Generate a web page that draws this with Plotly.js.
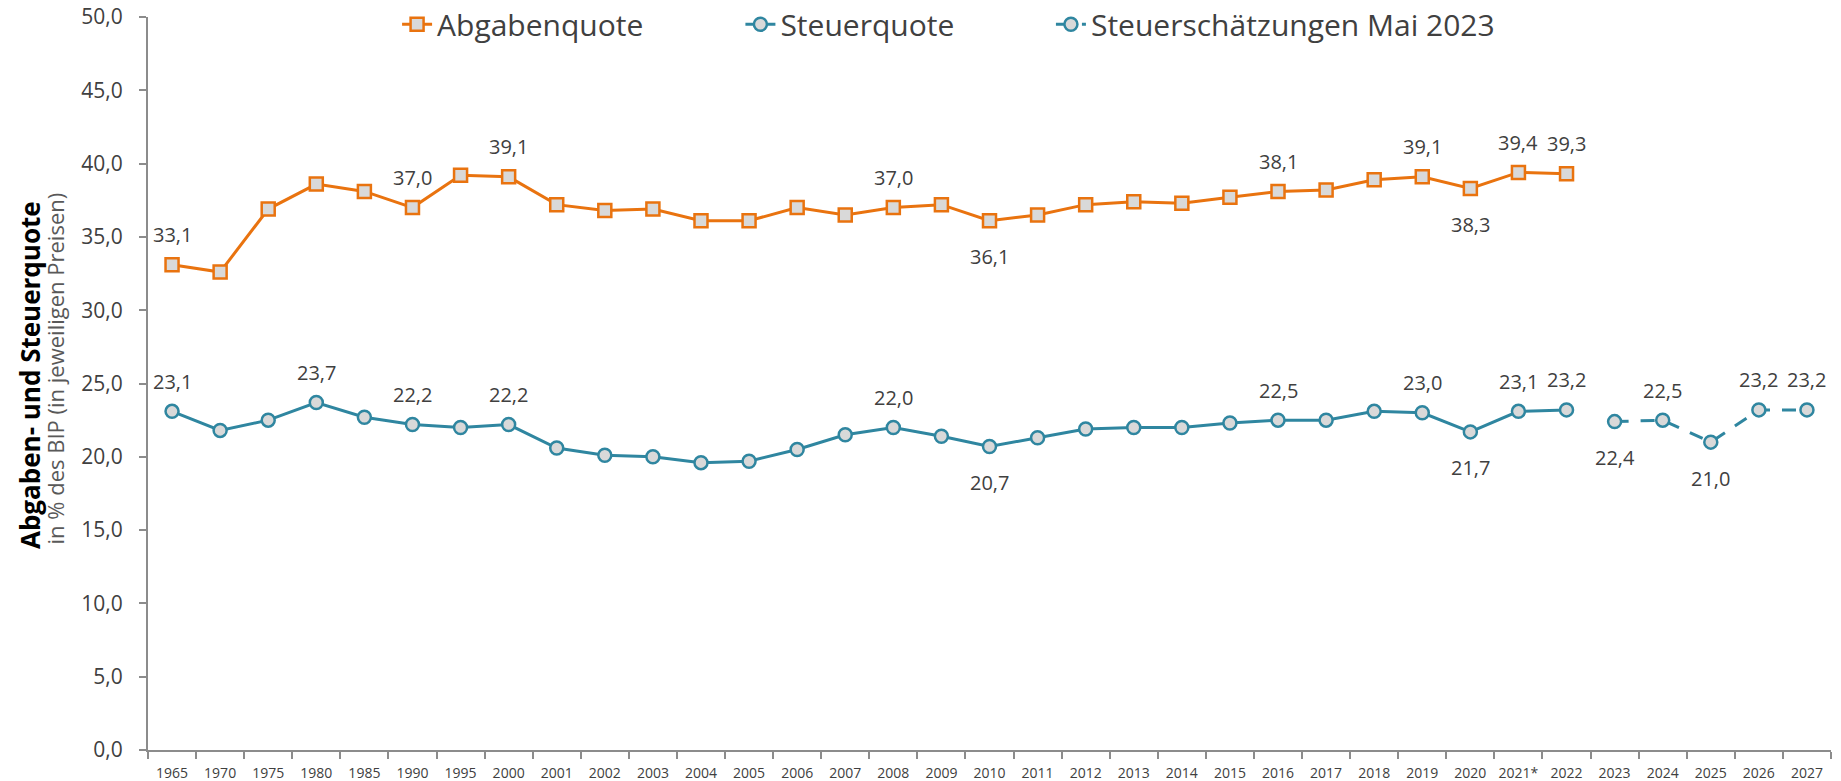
<!DOCTYPE html>
<html>
<head>
<meta charset="utf-8">
<script src="https://cdn.plot.ly/plotly-3.0.1.min.js"></script>
<style>
html,body{margin:0;padding:0;background:#fff;}
#chart{width:1841px;height:781px;}
</style>
</head>
<body>
<div id="chart"></div>
<script>
// ---- Data ----
const years = ["1965","1970","1975","1980","1985","1990","1995","2000","2001","2002","2003","2004","2005","2006","2007","2008","2009","2010","2011","2012","2013","2014","2015","2016","2017","2018","2019","2020","2021*","2022","2023","2024","2025","2026","2027"];
const histYears = years.slice(0, 30);
const forecastYears = years.slice(30);

const abgabenquote = [33.1,32.6,36.9,38.6,38.1,37.0,39.2,39.1,37.2,36.8,36.9,36.1,36.1,37.0,36.5,37.0,37.2,36.1,36.5,37.2,37.4,37.3,37.7,38.1,38.2,38.9,39.1,38.3,39.4,39.3];
const steuerquote = [23.1,21.8,22.5,23.7,22.7,22.2,22.0,22.2,20.6,20.1,20.0,19.6,19.7,20.5,21.5,22.0,21.4,20.7,21.3,21.9,22.0,22.0,22.3,22.5,22.5,23.1,23.0,21.7,23.1,23.2];
const steuerschaetzung = [22.4,22.5,21.0,23.2,23.2];

// which points carry a value label: "a" = above, "b" = below, "" = none
const abgabenLabels = ["a","","","","","a","","a","","","","","","","","a","","b","","","","","","a","","","a","b","a","a"];
const steuerLabels  = ["a","","","a","","a","","a","","","","","","","","a","","b","","","","","","a","","","a","b","a","a"];
const schaetzLabels = ["b","a","b","a","a"];

const seriesNames = ["Abgabenquote","Steuerquote","Steuerschätzungen Mai 2023"];
const yAxisTitle = "Abgaben- und Steuerquote";
const yAxisSubtitle = "in % des BIP (in jeweiligen Preisen)";

// ---- Styles ----
const ORANGE = "#E9730F";
const TEAL = "#2F86A0";
const FILL = "#D9D9D9";
const TXT = "#404040";
const AXIS = "#8C8C8C";
const FONT = "Open Sans, Lato, sans-serif";

const fmt = v => v.toFixed(1).replace(".", ",");

const traces = [
  {
    type: "scatter", mode: "lines+markers", name: seriesNames[0], legend: "legend",
    x: histYears, y: abgabenquote,
    line: {color: ORANGE, width: 3},
    marker: {symbol: "square", size: 13, color: FILL, line: {color: ORANGE, width: 2.5}}
  },
  {
    type: "scatter", mode: "lines+markers", name: seriesNames[1], legend: "legend2",
    x: histYears, y: steuerquote,
    line: {color: TEAL, width: 3},
    marker: {symbol: "circle", size: 13, color: FILL, line: {color: TEAL, width: 2.5}}
  },
  {
    type: "scatter", mode: "lines+markers", name: seriesNames[2], legend: "legend3",
    x: forecastYears, y: steuerschaetzung,
    line: {color: TEAL, width: 3, dash: "14px,12px"},
    marker: {symbol: "circle", size: 13, color: FILL, line: {color: TEAL, width: 2.5}}
  }
];

const annotations = [];
function addLabels(xs, ys, pos) {
  for (let i = 0; i < xs.length; i++) {
    if (!pos[i]) continue;
    annotations.push({
      x: years.indexOf(xs[i]), y: ys[i], xref: "x", yref: "y",
      text: fmt(ys[i]), showarrow: false,
      yshift: pos[i] === "a" ? 30 : -36,
      xanchor: "center", yanchor: "middle",
      font: {family: FONT, size: 20, color: TXT}
    });
  }
}
addLabels(histYears, abgabenquote, abgabenLabels);
addLabels(histYears, steuerquote, steuerLabels);
addLabels(forecastYears, steuerschaetzung, schaetzLabels);

annotations.push({
  xref: "paper", yref: "paper", x: -0.0705, y: 0.512,
  text: "<b>" + yAxisTitle + "</b>", showarrow: false, textangle: -90,
  xanchor: "center", yanchor: "middle",
  font: {family: FONT, size: 26, color: "#000000"}
});
annotations.push({
  xref: "paper", yref: "paper", x: -0.0555, y: 0.52,
  text: yAxisSubtitle, showarrow: false, textangle: -90,
  xanchor: "center", yanchor: "middle",
  font: {family: FONT, size: 22, color: "#595959"}
});

const legendBase = {
  orientation: "h", xanchor: "left", y: 0.99, yanchor: "middle",
  font: {family: FONT, size: 30, color: TXT},
  itemwidth: 30, bgcolor: "rgba(0,0,0,0)"
};

const layout = {
  width: 1841, height: 781,
  margin: {l: 148, r: 10, t: 17, b: 31, autoexpand: false},
  paper_bgcolor: "#ffffff", plot_bgcolor: "#ffffff",
  separators: ",.",
  font: {family: FONT, color: TXT},
  showlegend: true,
  legend: Object.assign({}, legendBase, {x: 0.148}),
  legend2: Object.assign({}, legendBase, {x: 0.352}),
  legend3: Object.assign({}, legendBase, {x: 0.5365}),
  xaxis: {
    type: "category", categoryorder: "array", categoryarray: years,
    range: [-0.5, years.length - 0.5],
    showline: true, linecolor: AXIS, linewidth: 2,
    ticks: "outside", tickson: "boundaries", ticklen: 7, tickwidth: 2, tickcolor: AXIS,
    tickfont: {family: FONT, size: 14, color: TXT}, tickangle: 0,
    ticklabelstandoff: 9,
    showgrid: false, zeroline: false, fixedrange: true
  },
  yaxis: {
    range: [0, 50], dtick: 5, tick0: 0, tickformat: ".1f",
    showline: true, linecolor: AXIS, linewidth: 2,
    ticks: "outside", ticklen: 7, tickwidth: 2, tickcolor: AXIS,
    tickfont: {family: FONT, size: 21, color: TXT},
    ticklabelstandoff: 12,
    showgrid: false, zeroline: false, fixedrange: true
  },
  annotations: annotations,
  hovermode: false
};

Plotly.newPlot("chart", traces, layout, {displayModeBar: false, staticPlot: true});
</script>
</body>
</html>
